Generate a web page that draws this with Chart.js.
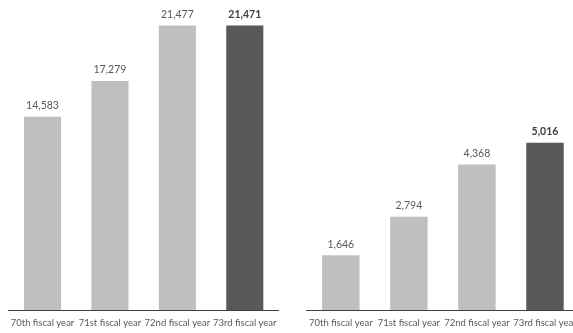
<!DOCTYPE html>
<html>
<head>
<meta charset="utf-8">
<script src="https://cdn.jsdelivr.net/npm/chart.js@4.4.1/dist/chart.umd.min.js"></script>
<style>
  html, body { margin: 0; padding: 0; background: #fff; }
  #wrap { position: relative; width: 573px; height: 333px; overflow: hidden; }
  .box { position: absolute; top: 0; width: 290px; height: 340px; }
</style>
</head>
<body>
<div id="wrap">
  <div class="box" style="left:0"><canvas id="leftChart"></canvas></div>
  <div class="box" style="left:298px"><canvas id="rightChart"></canvas></div>
</div>
<script>
// data
const categories = ["70th fiscal year", "71st fiscal year", "72nd fiscal year", "73rd fiscal year"];
const leftValues = [14583, 17279, 21477, 21471];
const rightValues = [1646, 2794, 4368, 5016];
const highlightIndex = 3; // latest year is drawn dark

const lightGrey = "#bfbfbf";
const darkGrey = "#595959";

// value labels above each bar
const valueLabels = {
    id: "valueLabels",
    afterDatasetsDraw(chart) {
        const ctx = chart.ctx;
        const meta = chart.getDatasetMeta(0);
        const vals = chart.data.datasets[0].data;
        ctx.save();
        ctx.textAlign = "center";
        ctx.textBaseline = "middle";
        meta.data.forEach((bar, i) => {
            const bold = i === highlightIndex;
            ctx.font = (bold ? "bold " : "") + "10.5px Lato";
            ctx.fillStyle = bold ? "#404040" : "#595959";
            ctx.fillText(vals[i].toLocaleString("en-US"), bar.x, bar.y - 11);
        });
        ctx.restore();
    }
};

function makeChart(id, values, maxVal, padRight) {
    const ctx = document.getElementById(id).getContext("2d");
    return new Chart(ctx, {
        type: "bar",
        data: {
            labels: categories,
            datasets: [{
                data: values,
                backgroundColor: values.map((v, i) => i === highlightIndex ? darkGrey : lightGrey),
                barPercentage: 0.55,
                categoryPercentage: 1
            }]
        },
        options: {
            responsive: true,
            maintainAspectRatio: false,
            animation: false,
            layout: { padding: { left: 8.8, right: padRight, top: 0, bottom: 4.6 } },
            plugins: { legend: { display: false }, tooltip: { enabled: false } },
            scales: {
                x: {
                    grid: { display: false, drawTicks: false },
                    border: { display: true, color: "#404040", width: 1 },
                    ticks: { color: "#595959", padding: 7, maxRotation: 0, autoSkip: false, font: { family: "Lato", size: 9.5 } }
                },
                y: { display: false, min: 0, max: maxVal }
            }
        },
        plugins: [valueLabels]
    });
}

makeChart("leftChart", leftValues, 23400, 11.5);
makeChart("rightChart", rightValues, 9300, 9);
</script>
</body>
</html>
